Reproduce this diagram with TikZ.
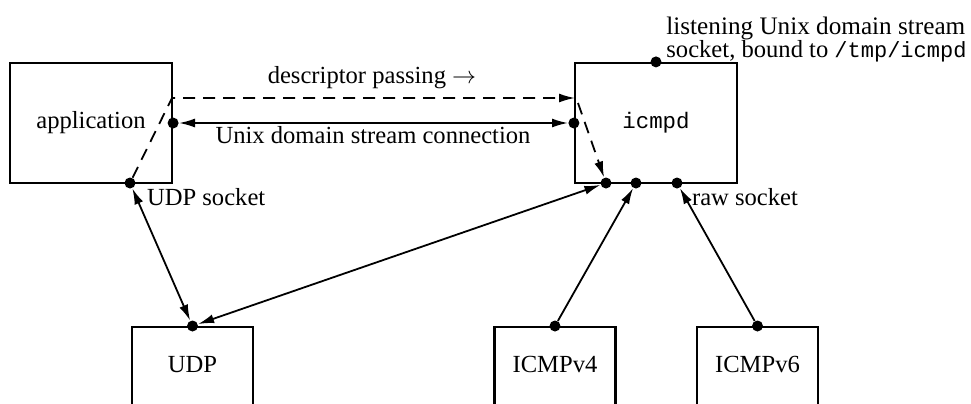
\documentclass[tikz,border=0pt]{standalone}
\usepackage{fontspec}
\setmainfont{Liberation Serif}
\setmonofont{Liberation Mono}
\usetikzlibrary{arrows.meta,positioning}
\setlength{\lineskiplimit}{-10pt}

\begin{document}
\begin{tikzpicture}[x=0.5pt,y=-0.5pt,
font=\fontsize{12.3}{11.3}\selectfont,
box/.style={draw,line width=1.1pt,minimum width=81pt,minimum height=60pt,inner sep=0pt},
lowbox/.style={draw,line width=1.1pt,anchor=north,minimum width=60.5pt,inner sep=0pt,text height=22.5pt,text depth=25pt},
dot/.style={circle,fill,inner sep=0pt,minimum size=5.5pt},
flow/.style={line width=0.9pt,{Latex[length=8pt,width=4.5pt]}-{Latex[length=8pt,width=4.5pt]}},
oneway/.style={line width=0.9pt,-{Latex[length=8pt,width=4.5pt]}},
pass/.style={line width=0.9pt,dash pattern=on 6pt off 4pt,-{Latex[length=8pt,width=4.5pt]}}]
\path[use as bounding box,clip] (0,0) rectangle (971,403);
\node[box] (app) at (91,123) {application};
\node[box,font=\ttfamily\fontsize{11.2}{13}\selectfont] (icmpd) at (656,123) {icmpd};
\node[lowbox] (udp) at (192.5,326) {UDP};
\node[lowbox] (icmpv4) at (555,326) {ICMPv4};
\node[lowbox] (icmpv6) at (757.5,326) {ICMPv6};
% socket end points
\node[dot] (appuds) at (app.east) {};
\node[dot] (appudp) at (130,183) {};
\node[dot] (icmpduds) at (icmpd.west) {};
\node[dot] (icmpdtop) at (icmpd.north) {};
\node[dot] (icmpdudp) at (606,183) {};
\node[dot] (icmpdv4) at (636,183) {};
\node[dot] (icmpdraw) at (677,183) {};
\node[dot] (udpdot) at (udp.north) {};
\node[dot] (v4dot) at (icmpv4.north) {};
\node[dot] (v6dot) at (icmpv6.north) {};
\coordinate (dpbend) at (172,98);
\coordinate (dpend) at (575,98);
\coordinate (dpstart) at (578,103);
\draw[flow] (appuds) -- (icmpduds);
\draw[flow] (appudp) -- (udpdot);
\draw[flow] (udpdot) -- (icmpdudp);
\draw[oneway] (v4dot) -- (icmpdv4);
\draw[oneway] (v6dot) -- (icmpdraw);
\draw[pass] (appudp) -- (dpbend) -- (dpend);
\draw[pass] (dpstart) -- (icmpdudp);
\node (dplbl) at (372,78) {descriptor passing $\rightarrow$};
\node (udslbl) at (373,135) {Unix domain stream connection};
\node[anchor=west] (udplbl) at (140,197) {UDP socket};
\node[anchor=west] (rawlbl) at (685,197) {raw socket};
\node[anchor=north west,align=left,inner sep=0pt] (listenlbl) at (666,17) {\fontsize{12.6}{11.3}\selectfont listening Unix domain stream\\socket, bound to {\ttfamily\fontsize{11}{11.3}\selectfont /tmp/icmpd}};
\end{tikzpicture}
\end{document}
